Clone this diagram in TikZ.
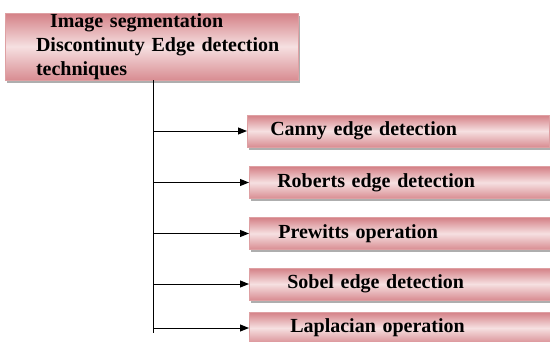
\documentclass[tikz,border=0pt]{standalone}
\usepackage{fontspec}
\setmainfont{Liberation Serif}
\usetikzlibrary{arrows.meta,shadows}

\definecolor{rosedark}{RGB}{212,128,134}
\definecolor{roselight}{RGB}{246,224,225}
\definecolor{roseline}{RGB}{222,160,163}

\tikzset{
  pinkbox/.style={draw=roseline, line width=0.6pt,
    top color=rosedark, bottom color=rosedark!90, middle color=roselight,
    drop shadow={shadow xshift=2pt, shadow yshift=-2.5pt, fill=black!45, opacity=0.7},
    font=\fontsize{20}{24}\selectfont\bfseries, inner ysep=0pt},
  branchbox/.style={pinkbox, anchor=west, minimum height=32pt, align=left,
    inner xsep=#1, text width=302pt-2*#1},
  branch/.style={-{Triangle[length=9pt,width=7pt]}, line width=1pt},
}

\begin{document}
\begin{tikzpicture}[x=1pt,y=-1pt]
\useasboundingbox (0,0) rectangle (550,341);

% Root box
\node[pinkbox, minimum width=293pt, minimum height=67pt, align=left,
  text width=231pt, inner xsep=31pt] (root) at (151.5,46.5)
  {\hspace*{14pt}Image segmentation\\\mbox{Discontinuty Edge detection}\\techniques};

% Technique boxes
\node[branchbox=23pt] (canny) at (247,131) {Canny edge detection};
\node[branchbox=28pt] (roberts) at (249,182.5) {Roberts edge detection};
\node[branchbox=29pt] (prewitts) at (249,233.5) {Prewitts operation};
\node[branchbox=38pt] (sobel) at (249,284) {Sobel edge detection};
\node[branchbox=41pt] (laplace) at (249,328) {Laplacian operation};

% Trunk
\coordinate (trunktop) at (153,80);
\coordinate (trunkend) at (153,333);
\draw[line width=1pt] (trunktop) -- (trunkend);

% Arrows
\draw[branch] (trunktop |- canny.west) -- (canny.west);
\draw[branch] (trunktop |- roberts.west) -- (roberts.west);
\draw[branch] (trunktop |- prewitts.west) -- (prewitts.west);
\draw[branch] (trunktop |- sobel.west) -- (sobel.west);
\draw[branch] (trunktop |- laplace.west) -- (laplace.west);
\end{tikzpicture}
\end{document}
